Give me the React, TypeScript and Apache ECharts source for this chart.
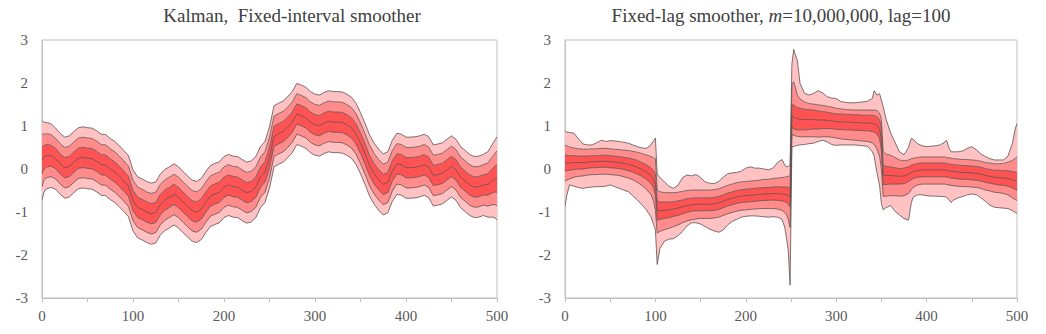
import React, { useEffect, useRef } from "react";
import * as echarts from "echarts";

// ---------- Left panel: Kalman fixed-interval smoother ----------
const leftT = [
  0, 2, 5, 10, 15, 20, 25, 30, 35, 40, 45, 50, 55, 60, 65, 70, 75, 80, 85, 90, 95,
  100, 105, 110, 115, 120, 125, 130, 135, 140, 145, 150, 155, 160, 165, 170, 175, 180, 185, 190, 195,
  200, 205, 210, 215, 220, 225, 230, 235, 240, 245, 250, 255, 260, 265, 270, 275, 280, 285, 290, 295,
  300, 305, 310, 315, 320, 325, 330, 335, 340, 345, 350, 355, 360, 365, 370, 375, 380, 385, 390, 395,
  400, 405, 410, 415, 420, 425, 430, 435, 440, 445, 450, 455, 460, 465, 470, 475, 480, 485, 490, 495,
  498, 500,
];
const leftMedian = [
  0.2, 0.27, 0.31, 0.31, 0.24, 0.12, 0.03, 0.06, 0.16, 0.25, 0.27, 0.25, 0.24, 0.18, 0.1, 0.09, 0.0, -0.07, -0.17, -0.28, -0.4,
  -0.73, -0.89, -0.94, -1.0, -1.04, -1.01, -0.83, -0.72, -0.66, -0.59, -0.66, -0.77, -0.87, -0.97, -1.0, -0.93, -0.77, -0.63, -0.58, -0.54,
  -0.42, -0.37, -0.41, -0.42, -0.49, -0.55, -0.52, -0.42, -0.19, -0.07, 0.27, 0.76, 0.82, 0.87, 0.97, 1.09, 1.28, 1.24, 1.19, 1.09,
  1.03, 1.01, 1.07, 1.11, 1.09, 1.09, 1.08, 1.03, 0.96, 0.82, 0.6, 0.35, 0.08, -0.11, -0.25, -0.36, -0.31, -0.04, 0.12, 0.1,
  0.03, 0.03, 0.04, 0.06, 0.1, 0.04, -0.15, -0.13, -0.1, -0.02, 0.06, -0.02, -0.19, -0.28, -0.37, -0.42, -0.41, -0.37, -0.36, -0.27,
  -0.23, -0.22,
];
const leftInner = [
  0.31, 0.27, 0.26, 0.245, 0.235, 0.235, 0.235, 0.235, 0.235, 0.235, 0.235, 0.235, 0.235, 0.235, 0.235, 0.235, 0.235, 0.235, 0.235, 0.235, 0.235,
  0.235, 0.235, 0.235, 0.235, 0.235, 0.235, 0.235, 0.235, 0.235, 0.235, 0.235, 0.235, 0.235, 0.235, 0.235, 0.235, 0.235, 0.235, 0.235, 0.235,
  0.235, 0.235, 0.235, 0.235, 0.235, 0.235, 0.235, 0.235, 0.235, 0.235, 0.235, 0.235, 0.235, 0.235, 0.235, 0.235, 0.235, 0.235, 0.235, 0.235,
  0.235, 0.235, 0.235, 0.235, 0.235, 0.235, 0.235, 0.235, 0.235, 0.235, 0.235, 0.235, 0.235, 0.235, 0.235, 0.235, 0.235, 0.235, 0.235, 0.235,
  0.235, 0.235, 0.235, 0.235, 0.235, 0.235, 0.235, 0.235, 0.235, 0.235, 0.235, 0.235, 0.235, 0.235, 0.235, 0.235, 0.235, 0.235, 0.25, 0.28,
  0.3, 0.32,
];
const leftMid = [
  0.61, 0.54, 0.51, 0.49, 0.47, 0.47, 0.47, 0.47, 0.47, 0.47, 0.47, 0.47, 0.47, 0.47, 0.47, 0.47, 0.47, 0.47, 0.47, 0.47, 0.47,
  0.47, 0.47, 0.47, 0.47, 0.47, 0.47, 0.47, 0.47, 0.47, 0.47, 0.47, 0.47, 0.47, 0.47, 0.47, 0.47, 0.47, 0.47, 0.47, 0.47,
  0.47, 0.47, 0.47, 0.47, 0.47, 0.47, 0.47, 0.47, 0.47, 0.47, 0.47, 0.47, 0.47, 0.47, 0.47, 0.47, 0.47, 0.47, 0.47, 0.47,
  0.47, 0.47, 0.47, 0.47, 0.47, 0.47, 0.47, 0.47, 0.47, 0.47, 0.47, 0.47, 0.47, 0.47, 0.47, 0.47, 0.47, 0.47, 0.47, 0.47,
  0.47, 0.47, 0.47, 0.47, 0.47, 0.47, 0.47, 0.47, 0.47, 0.47, 0.47, 0.47, 0.47, 0.47, 0.47, 0.47, 0.47, 0.47, 0.5, 0.56,
  0.6, 0.64,
];
const leftOuter = [
  0.92, 0.82, 0.77, 0.74, 0.71, 0.71, 0.71, 0.71, 0.71, 0.71, 0.71, 0.71, 0.71, 0.71, 0.71, 0.71, 0.71, 0.71, 0.71, 0.71, 0.71,
  0.71, 0.71, 0.71, 0.71, 0.71, 0.71, 0.71, 0.71, 0.71, 0.71, 0.71, 0.71, 0.71, 0.71, 0.71, 0.71, 0.71, 0.71, 0.71, 0.71,
  0.71, 0.71, 0.71, 0.71, 0.71, 0.71, 0.71, 0.71, 0.71, 0.71, 0.71, 0.71, 0.71, 0.71, 0.71, 0.71, 0.71, 0.71, 0.71, 0.71,
  0.71, 0.71, 0.71, 0.71, 0.71, 0.71, 0.71, 0.71, 0.71, 0.71, 0.71, 0.71, 0.71, 0.71, 0.71, 0.71, 0.71, 0.71, 0.71, 0.71,
  0.71, 0.71, 0.71, 0.71, 0.71, 0.71, 0.71, 0.71, 0.71, 0.71, 0.71, 0.71, 0.71, 0.71, 0.71, 0.71, 0.71, 0.71, 0.76, 0.85,
  0.91, 0.97,
];

// ---------- Right panel: fixed-lag smoother ----------
const rightT = [
  0, 2, 5, 10, 15, 20, 25, 30, 35, 40, 45, 50, 55, 60, 65, 70, 75, 80, 85, 90, 95, 98, 100,
  102, 105, 110, 115, 120, 125, 130, 135, 140, 145, 150, 155, 160, 165, 170, 175, 180, 185, 190, 195,
  200, 205, 210, 215, 220, 225, 230, 235, 240, 243, 245, 247, 249,
  251, 253, 255, 257, 260, 265, 270, 275, 280, 285, 290, 295, 300, 305, 310, 315, 320, 325, 330, 335,
  340, 342, 345, 348, 350,
  352, 355, 360, 365, 370, 375, 380, 383, 385, 390, 395, 400, 405, 410, 415, 420, 422, 425, 427,
  430, 435, 440, 445, 450, 455, 460, 465, 470, 475, 480, 485, 490, 495, 498, 500,
];
const rightMedian = [
  0.14, 0.14, 0.14, 0.15, 0.15, 0.15, 0.16, 0.17, 0.17, 0.18, 0.18, 0.17, 0.16, 0.15, 0.13, 0.11, 0.08, 0.04, -0.01, -0.07, -0.15, -0.24, -0.36,
  -0.97, -0.97, -0.96, -0.95, -0.93, -0.91, -0.88, -0.85, -0.83, -0.82, -0.82, -0.82, -0.82, -0.81, -0.79, -0.75, -0.71, -0.68, -0.65, -0.63,
  -0.62, -0.61, -0.6, -0.59, -0.58, -0.58, -0.57, -0.57, -0.58, -0.59, -0.6, -0.62, -0.66,
  1.24, 1.21, 1.19, 1.17, 1.16, 1.15, 1.15, 1.15, 1.14, 1.14, 1.13, 1.12, 1.1, 1.1, 1.09, 1.09, 1.08, 1.08, 1.07, 1.07,
  1.06, 1.05, 1.02, 0.92, 0.7,
  -0.14, -0.15, -0.15, -0.16, -0.17, -0.16, -0.12, -0.08, -0.06, -0.03, -0.02, -0.02, -0.02, -0.02, -0.02, -0.02, -0.03, -0.04, -0.05,
  -0.06, -0.07, -0.08, -0.08, -0.09, -0.1, -0.12, -0.15, -0.17, -0.19, -0.2, -0.21, -0.22, -0.25, -0.27, -0.29,
];
const rightInner = [
  0.19, 0.18, 0.17, 0.16, 0.15, 0.15, 0.14, 0.14, 0.14, 0.14, 0.14, 0.14, 0.14, 0.14, 0.14, 0.15, 0.15, 0.16, 0.16, 0.17, 0.18, 0.2, 0.24,
  0.22, 0.2, 0.19, 0.18, 0.17, 0.17, 0.16, 0.16, 0.15, 0.15, 0.15, 0.15, 0.15, 0.15, 0.15, 0.15, 0.15, 0.15, 0.15, 0.15,
  0.15, 0.15, 0.15, 0.15, 0.15, 0.15, 0.15, 0.16, 0.16, 0.17, 0.18, 0.19, 0.22,
  0.25, 0.28, 0.27, 0.26, 0.25, 0.24, 0.23, 0.22, 0.21, 0.2, 0.19, 0.18, 0.18, 0.18, 0.18, 0.18, 0.18, 0.18, 0.18, 0.18,
  0.19, 0.19, 0.2, 0.22, 0.25,
  0.22, 0.21, 0.2, 0.19, 0.18, 0.18, 0.17, 0.17, 0.16, 0.16, 0.16, 0.16, 0.16, 0.16, 0.16, 0.16, 0.16, 0.16, 0.16,
  0.16, 0.16, 0.16, 0.16, 0.16, 0.16, 0.16, 0.16, 0.16, 0.16, 0.17, 0.17, 0.18, 0.19, 0.2, 0.21,
];
const rightMidUp = [
  0.42, 0.4, 0.37, 0.34, 0.32, 0.31, 0.3, 0.3, 0.3, 0.3, 0.3, 0.3, 0.3, 0.3, 0.31, 0.32, 0.33, 0.35, 0.37, 0.4, 0.44, 0.5, 0.6,
  0.48, 0.44, 0.41, 0.4, 0.38, 0.37, 0.36, 0.35, 0.34, 0.33, 0.33, 0.33, 0.33, 0.33, 0.33, 0.33, 0.33, 0.33, 0.33, 0.33,
  0.33, 0.33, 0.33, 0.33, 0.34, 0.34, 0.35, 0.36, 0.38, 0.4, 0.42, 0.45, 0.5,
  0.72, 0.82, 0.7, 0.55, 0.47, 0.41, 0.37, 0.36, 0.35, 0.34, 0.33, 0.32, 0.31, 0.3, 0.29, 0.29, 0.29, 0.29, 0.3, 0.3,
  0.31, 0.32, 0.34, 0.38, 0.45,
  0.55, 0.5, 0.47, 0.43, 0.38, 0.35, 0.33, 0.32, 0.31, 0.3, 0.3, 0.3, 0.3, 0.3, 0.3, 0.3, 0.3, 0.3, 0.3,
  0.3, 0.3, 0.3, 0.3, 0.3, 0.3, 0.3, 0.3, 0.31, 0.31, 0.32, 0.34, 0.38, 0.45, 0.52, 0.58,
];
const rightMidDn = [
  0.42, 0.4, 0.37, 0.34, 0.32, 0.31, 0.3, 0.3, 0.3, 0.3, 0.3, 0.3, 0.3, 0.3, 0.31, 0.32, 0.33, 0.35, 0.37, 0.4, 0.44, 0.5, 0.6,
  0.52, 0.48, 0.45, 0.43, 0.41, 0.39, 0.37, 0.36, 0.35, 0.34, 0.33, 0.33, 0.33, 0.33, 0.33, 0.33, 0.33, 0.33, 0.33, 0.33,
  0.33, 0.33, 0.33, 0.33, 0.34, 0.34, 0.35, 0.36, 0.38, 0.42, 0.46, 0.55, 0.7,
  0.45, 0.42, 0.42, 0.41, 0.41, 0.4, 0.4, 0.4, 0.4, 0.39, 0.38, 0.38, 0.38, 0.4, 0.4, 0.41, 0.41, 0.42, 0.42, 0.43,
  0.45, 0.48, 0.55, 0.62, 0.7,
  0.5, 0.48, 0.47, 0.46, 0.46, 0.46, 0.45, 0.4, 0.37, 0.34, 0.33, 0.33, 0.33, 0.33, 0.33, 0.33, 0.33, 0.33, 0.33,
  0.33, 0.33, 0.33, 0.33, 0.33, 0.33, 0.33, 0.34, 0.34, 0.35, 0.35, 0.36, 0.38, 0.42, 0.44, 0.44,
];
const rightOutUp = [
  0.73, 0.72, 0.71, 0.68, 0.55, 0.43, 0.4, 0.39, 0.44, 0.49, 0.46, 0.49, 0.49, 0.49, 0.49, 0.49, 0.48, 0.48, 0.5, 0.55, 0.71, 0.9, 1.08,
  0.85, 0.77, 0.66, 0.55, 0.48, 0.53, 0.68, 0.71, 0.67, 0.69, 0.62, 0.52, 0.49, 0.47, 0.5, 0.56, 0.6, 0.59, 0.57, 0.58,
  0.64, 0.66, 0.62, 0.61, 0.58, 0.56, 0.59, 0.72, 0.8, 0.69, 0.65, 0.68, 0.76,
  1.2, 1.57, 1.45, 1.36, 0.83, 0.61, 0.57, 0.61, 0.68, 0.63, 0.55, 0.53, 0.54, 0.47, 0.46, 0.45, 0.46, 0.47, 0.49, 0.51,
  0.58, 0.77, 0.7, 0.83, 0.9,
  1.59, 1.32, 1.0, 0.78, 0.57, 0.49, 0.62, 0.79, 0.75, 0.62, 0.56, 0.54, 0.55, 0.56, 0.58, 0.64, 0.7, 0.52, 0.45,
  0.46, 0.47, 0.5, 0.56, 0.61, 0.55, 0.47, 0.44, 0.41, 0.4, 0.41, 0.42, 0.52, 0.85, 1.2, 1.35,
];
const rightOutDn = [
  1.02, 0.75, 0.51, 0.55, 0.58, 0.6, 0.59, 0.59, 0.58, 0.59, 0.58, 0.54, 0.57, 0.6, 0.62, 0.64, 0.7, 0.76, 0.82, 0.88, 0.96, 1.05, 1.05,
  1.25, 0.88, 0.72, 0.68, 0.69, 0.64, 0.57, 0.47, 0.42, 0.43, 0.46, 0.52, 0.58, 0.63, 0.68, 0.67, 0.59, 0.54, 0.52, 0.49,
  0.48, 0.48, 0.49, 0.51, 0.53, 0.54, 0.54, 0.55, 0.59, 0.76, 1.0, 1.28, 2.04,
  0.72, 0.69, 0.65, 0.62, 0.6, 0.58, 0.56, 0.55, 0.5, 0.47, 0.5, 0.55, 0.55, 0.54, 0.53, 0.53, 0.52, 0.53, 0.53, 0.55,
  0.66, 0.75, 1.1, 1.3, 1.5,
  0.81, 0.75, 0.7, 0.82, 0.9, 0.99, 1.07, 0.72, 0.6, 0.57, 0.58, 0.6, 0.61, 0.61, 0.62, 0.62, 0.63, 0.68, 0.73,
  0.66, 0.6, 0.56, 0.52, 0.49, 0.5, 0.55, 0.6, 0.67, 0.7, 0.7, 0.7, 0.7, 0.72, 0.74, 0.74,
];

const xTicks = [0, 100, 200, 300, 400, 500];

const LIGHT = "#ffc1c1";
const MID = "#ff8b8b";
const DARK = "#ff5252";
const EDGE = "#5e5454";
const AXIS = "#c0c0c0";
const FONT = "'Liberation Serif', 'Times New Roman', serif";

function fanSeries(
  idx: number,
  t: number[],
  med: number[],
  inner: number[],
  midUp: number[],
  midDn: number[],
  outUp: number[],
  outDn: number[]
) {
  const n = Math.min(t.length, med.length, inner.length, midUp.length, midDn.length, outUp.length, outDn.length);
  // boundaries from bottom to top
  const bounds: number[][] = [[], [], [], [], [], []];
  for (let i = 0; i < n; i++) {
    const m = med[i];
    bounds[0].push(m - outDn[i]);
    bounds[1].push(m - midDn[i]);
    bounds[2].push(m - inner[i]);
    bounds[3].push(m + inner[i]);
    bounds[4].push(m + midUp[i]);
    bounds[5].push(m + outUp[i]);
  }
  const fills = [LIGHT, MID, DARK, MID, LIGHT];
  return {
    type: "custom",
    xAxisIndex: idx,
    yAxisIndex: idx,
    silent: true,
    clip: true,
    data: [[t[0], med[0]]],
    encode: { x: 0, y: 1 },
    renderItem: (_params: any, api: any) => {
      const pts = (vals: number[]) => {
        const out: number[][] = [];
        for (let i = 0; i < n; i++) out.push(api.coord([t[i], vals[i]]));
        return out;
      };
      const lines = bounds.map(pts);
      const children: any[] = [];
      for (let k = 0; k < 5; k++) {
        const poly = lines[k].concat(lines[k + 1].slice().reverse());
        children.push({
          type: "polygon",
          shape: { points: poly },
          style: { fill: fills[k], stroke: fills[k], lineWidth: 0.3 },
        });
      }
      const all = lines.concat([pts(med.slice(0, n))]);
      all.forEach((l) => {
        children.push({
          type: "polyline",
          shape: { points: l },
          style: { fill: null, stroke: EDGE, lineWidth: 0.8 },
        });
      });
      return { type: "group", children };
    },
  };
}

function xAxis(idx: number) {
  return {
    type: "value",
    gridIndex: idx,
    min: 0,
    max: 500,
    interval: 50,
    axisLine: { show: true, onZero: false, lineStyle: { color: AXIS, width: 1 } },
    axisTick: { show: true, length: 4, lineStyle: { color: AXIS } },
    splitLine: { show: false },
    axisLabel: {
      formatter: (v: number) => (xTicks.indexOf(v) >= 0 ? String(v) : ""),
      fontFamily: FONT,
      fontSize: 15,
      color: "#595959",
      margin: 10,
    },
  };
}

function yAxis(idx: number) {
  return {
    type: "value",
    gridIndex: idx,
    min: -3,
    max: 3,
    interval: 1,
    axisLine: { show: true, onZero: false, lineStyle: { color: AXIS, width: 1 } },
    axisTick: { show: false },
    splitLine: { show: false },
    axisLabel: {
      fontFamily: FONT,
      fontSize: 15,
      color: "#595959",
      margin: 14,
    },
  };
}

export default function App() {
  const ref = useRef<HTMLDivElement>(null);
  useEffect(() => {
    if (!ref.current) return;
    const chart = echarts.init(ref.current, undefined, { renderer: "svg" });
    const titleStyle = {
      fontFamily: FONT,
      fontSize: 19,
      fontWeight: "normal",
      color: "#404040",
    };
    chart.setOption({
      animation: false,
      backgroundColor: "#ffffff",
      title: [
        {
          text: "Kalman,  Fixed-interval smoother",
          left: 292,
          top: 6,
          textAlign: "center",
          padding: 0,
          textStyle: titleStyle,
        },
        {
          text: "Fixed-lag smoother, {i|m}=10,000,000, lag=100",
          left: 781,
          top: 6,
          textAlign: "center",
          padding: 0,
          textStyle: {
            ...titleStyle,
            rich: {
              i: { fontFamily: FONT, fontSize: 19, fontStyle: "italic", color: "#404040" },
            },
          },
        },
      ],
      grid: [
        { left: 42, top: 40, width: 455, height: 258, show: true, borderColor: AXIS, borderWidth: 1, backgroundColor: "transparent" },
        { left: 565, top: 40, width: 452, height: 258, show: true, borderColor: AXIS, borderWidth: 1, backgroundColor: "transparent" },
      ],
      xAxis: [xAxis(0), xAxis(1)],
      yAxis: [yAxis(0), yAxis(1)],
      series: [
        fanSeries(0, leftT, leftMedian, leftInner, leftMid, leftMid, leftOuter, leftOuter),
        fanSeries(1, rightT, rightMedian, rightInner, rightMidUp, rightMidDn, rightOutUp, rightOutDn),
      ],
    });
    return () => chart.dispose();
  }, []);
  return (
    <div
      ref={ref}
      style={{ position: "fixed", left: 0, top: 0, width: 1046, height: 334, background: "#fff" }}
    />
  );
}
